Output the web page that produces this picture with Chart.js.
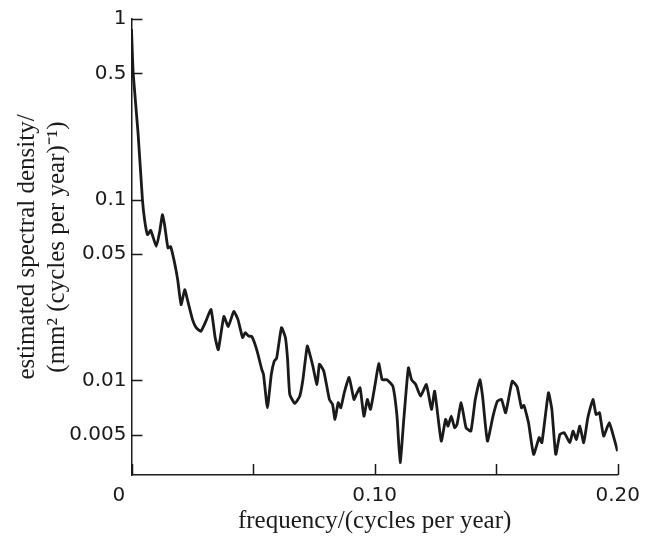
<!DOCTYPE html>
<html>
<head>
<meta charset="utf-8">
<script src="https://cdn.jsdelivr.net/npm/chart.js@4.4.1/dist/chart.umd.min.js"></script>
<style>
    html, body { margin: 0; padding: 0; background: #fff; }
    #wrap { width: 649px; height: 539px; }
</style>
</head>
<body>
<div id="wrap"><canvas id="spectrum" width="649" height="539"></canvas></div>
<script>
// frequency (cycles per year) and estimated spectral density
const freq = [
    0, 0.0007, 0.0027, 0.0045, 0.0055, 0.0066, 0.0079, 0.0102, 0.0116, 0.0127,
    0.0136, 0.0150, 0.0161, 0.0177, 0.0190, 0.0204, 0.0219, 0.0230, 0.0251, 0.0266,
    0.0285, 0.0306, 0.0327, 0.0344, 0.0357, 0.0380, 0.0398, 0.0421, 0.0438, 0.0457,
    0.0468, 0.0482, 0.0495, 0.0515, 0.0536, 0.0543, 0.0559, 0.0575, 0.0587, 0.0597,
    0.0617, 0.0633, 0.0642, 0.0651, 0.0672, 0.0692, 0.0705, 0.0723, 0.0734, 0.0746,
    0.0763, 0.0773, 0.0791, 0.0814, 0.0827, 0.0837, 0.0850, 0.0861, 0.0875, 0.0895,
    0.0915, 0.0925, 0.0940, 0.0956, 0.0970, 0.0983, 0.1002, 0.1017, 0.1031, 0.1051,
    0.1075, 0.1092, 0.1105, 0.1120, 0.1139, 0.1152, 0.1169, 0.1189, 0.1213, 0.1234,
    0.1247, 0.1274, 0.1292, 0.1302, 0.1315, 0.1329, 0.1339, 0.1356, 0.1376, 0.1396,
    0.1414, 0.1433, 0.1444, 0.1464, 0.1487, 0.1505, 0.1522, 0.1539, 0.1566, 0.1586,
    0.1604, 0.1614, 0.1633, 0.1654, 0.1677, 0.1688, 0.1715, 0.1729, 0.1745, 0.1762,
    0.1780, 0.1803, 0.1816, 0.1830, 0.1844, 0.1860, 0.1877, 0.1898, 0.1911, 0.1925,
    0.1942, 0.1965, 0.1986, 0.1999
];
const density = [
    0.88, 0.50, 0.234, 0.100, 0.0756, 0.0641, 0.0677, 0.0552, 0.0666, 0.0826,
    0.0728, 0.0541, 0.0550, 0.0449, 0.0361, 0.0263, 0.0318, 0.0280, 0.0217, 0.0196,
    0.0187, 0.0213, 0.0247, 0.0173, 0.0148, 0.0226, 0.0199, 0.0241, 0.0217, 0.0173,
    0.0184, 0.0176, 0.0175, 0.0148, 0.0115, 0.0108, 0.00707, 0.0108, 0.0128, 0.0133,
    0.0196, 0.0173, 0.0131, 0.00837, 0.00746, 0.00819, 0.0101, 0.0155, 0.0139, 0.0120,
    0.0095, 0.0123, 0.01125, 0.00785, 0.00737, 0.00609, 0.00753, 0.00707, 0.00855, 0.0104,
    0.00785, 0.00837, 0.00911, 0.00635, 0.00785, 0.00692, 0.0095, 0.0124, 0.0101, 0.0101,
    0.0093, 0.00635, 0.00351, 0.00609, 0.01175, 0.0101, 0.0095, 0.00819, 0.0095, 0.00692,
    0.00873, 0.00462, 0.00609, 0.00559, 0.00635, 0.00548, 0.00571, 0.00753, 0.00548, 0.00525,
    0.00785, 0.0101, 0.00819, 0.00462, 0.00635, 0.00769, 0.00785, 0.00663, 0.0099, 0.00923,
    0.00707, 0.00728, 0.00584, 0.0039, 0.00483, 0.00453, 0.00855, 0.00692, 0.0039, 0.00503,
    0.00514, 0.00453, 0.00525, 0.00472, 0.00559, 0.00453, 0.00622, 0.00785, 0.00649, 0.00663,
    0.00492, 0.00584, 0.00472, 0.00407
];

const xTickValues = [0, 0.05, 0.10, 0.15, 0.20];
const xTickLabels = ['0\u2007\u2007', '', '0.10', '', '0.20'];   // the "0" sits left of the axis in the original
const yTickValues = [0.005, 0.01, 0.05, 0.1, 0.5, 1];
const yTickLabels = ['0.005', '0.01', '0.05', '0.1', '0.5', '1'];

const INK = '#1a1a1a';

// ticks in the original point inwards, so draw them over the plot
const innerTicks = {
    id: 'innerTicks',
    afterDatasetsDraw(chart) {
        const { ctx, scales: { x, y } } = chart;
        ctx.save();
        ctx.strokeStyle = INK;
        ctx.lineWidth = 1.5;
        ctx.beginPath();
        y.ticks.forEach(t => {
            const py = Math.round(y.getPixelForValue(t.value)) + 0.5;
            ctx.moveTo(y.right, py);
            ctx.lineTo(y.right + 11, py);
        });
        x.ticks.forEach(t => {
            const px = Math.round(x.getPixelForValue(t.value)) + 0.5;
            ctx.moveTo(px, x.top);
            ctx.lineTo(px, x.top - 11);
        });
        ctx.stroke();
        ctx.restore();
    }
};

const ctx = document.getElementById('spectrum').getContext('2d');
new Chart(ctx, {
    type: 'line',
    data: {
        datasets: [{
            data: freq.map((f, i) => ({ x: f, y: density[i] })),
            borderColor: INK,
            borderWidth: 2.8,
            pointRadius: 0,
            tension: 0.15,
            fill: false
        }]
    },
    options: {
        responsive: false,
        animation: false,
        layout: { padding: { top: 19, right: 25.5, left: 0, bottom: 0 } },
        plugins: { legend: { display: false }, tooltip: { enabled: false } },
        scales: {
            x: {
                type: 'linear',
                min: 0,
                max: 0.2,
                afterBuildTicks: s => { s.ticks = xTickValues.map(v => ({ value: v })); },
                afterFit: s => { s.height = 64; },
                grid: { display: false, drawTicks: false },
                border: { display: true, color: INK, width: 1.5 },
                ticks: {
                    autoSkip: false,
                    maxRotation: 0,
                    padding: 9,
                    color: INK,
                    font: { family: 'DejaVu Sans', size: 20 },
                    callback: (v, i) => xTickLabels[i]
                },
                title: {
                    display: true,
                    text: 'frequency/(cycles per year)',
                    color: INK,
                    font: { family: 'Liberation Serif', size: 25, lineHeight: 1.2 },
                    padding: { top: 0, bottom: 3 }
                }
            },
            y: {
                type: 'logarithmic',
                min: 0.003,
                max: 1,
                afterBuildTicks: s => { s.ticks = yTickValues.map(v => ({ value: v })); },
                afterFit: s => { s.width = 131.5; },
                grid: { display: false, drawTicks: false },
                border: { display: true, color: INK, width: 1.5 },
                ticks: {
                    autoSkip: false,
                    padding: 5,
                    color: INK,
                    font: { family: 'DejaVu Sans', size: 20 },
                    callback: (v, i) => yTickLabels[i]
                },
                title: {
                    display: true,
                    text: ['estimated spectral density/', '(mm\u00b2 (cycles per year)\u207b\u00b9)'],
                    color: INK,
                    font: { family: 'Liberation Serif', size: 25, lineHeight: 1.2 },
                    padding: { top: 12, bottom: 0 }
                }
            }
        }
    },
    plugins: [innerTicks]
});
</script>
</body>
</html>
